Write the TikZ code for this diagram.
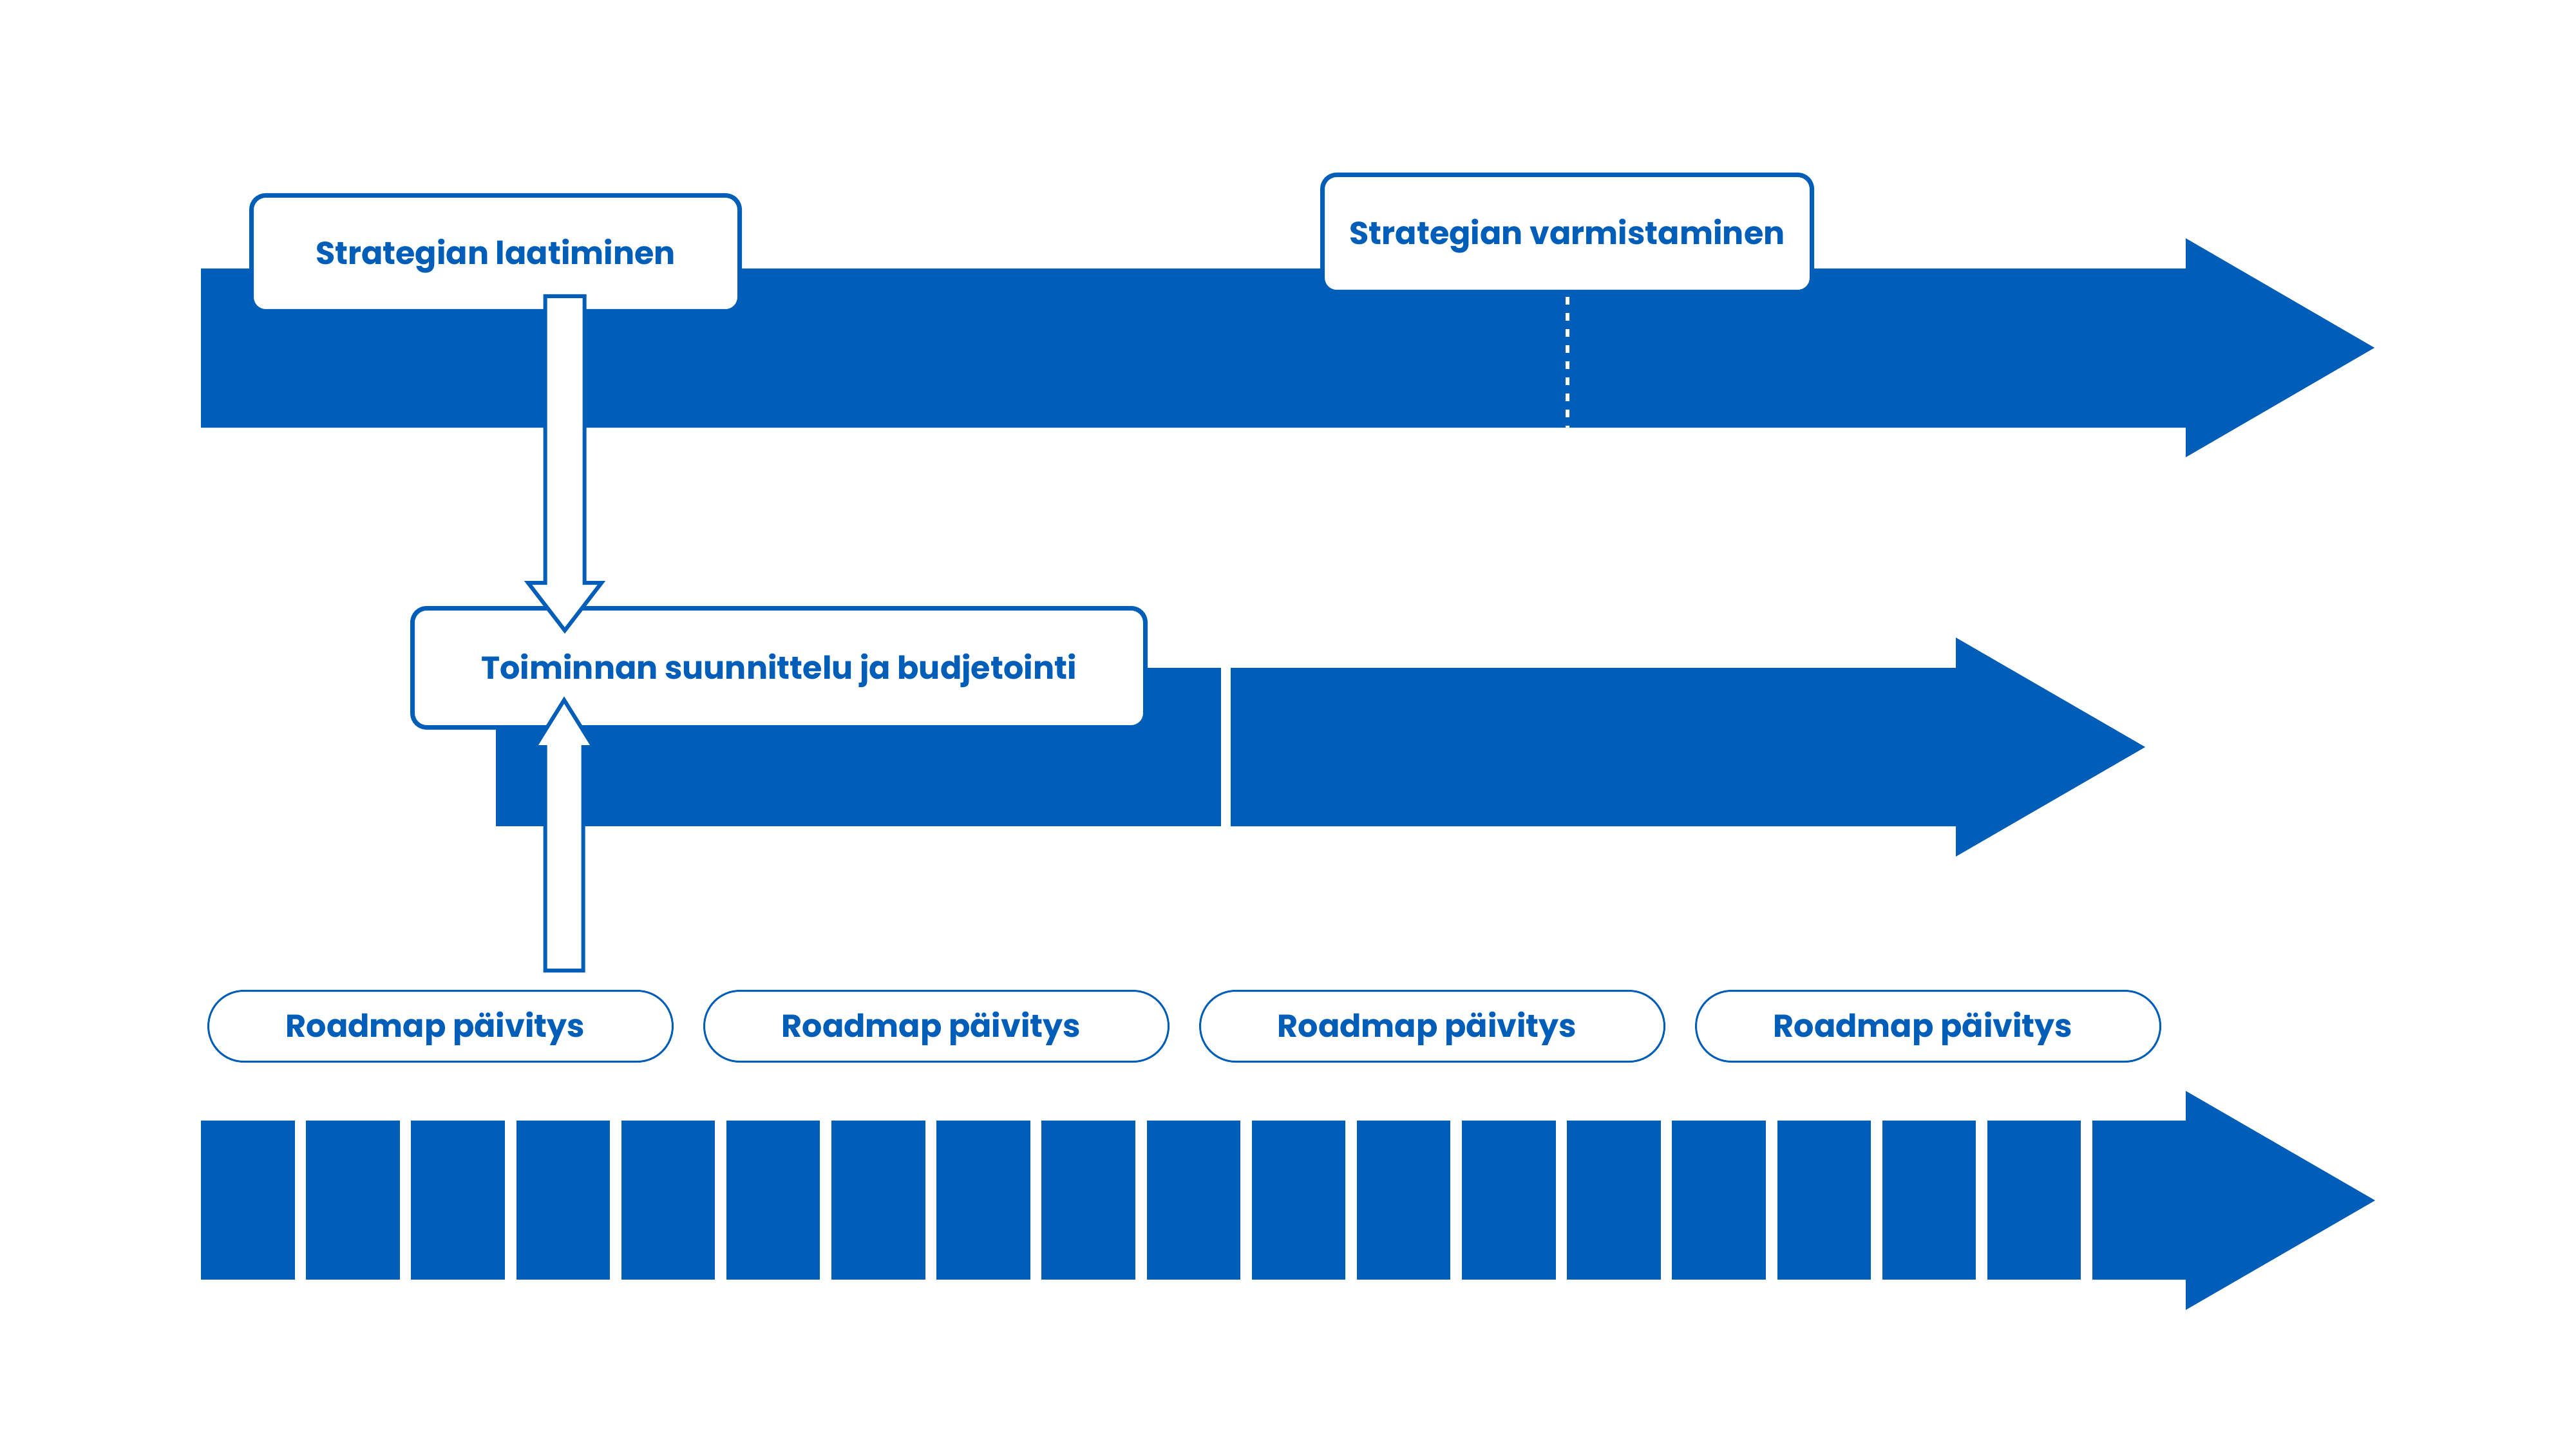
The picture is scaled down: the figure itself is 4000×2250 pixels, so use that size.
\documentclass[tikz,border=0pt]{standalone}
\usepackage{fontspec}
\setmainfont{Poppins}[Ligatures={NoCommon}]
\usetikzlibrary{calc}
\definecolor{brandblue}{RGB}{0,94,184}
\begin{document}
\begin{tikzpicture}[x=0.1mm,y=-0.1mm,
  band/.style={fill=brandblue,draw=none},
  labelfont/.style={text=brandblue,font=\bfseries\fontsize{14.0}{17}\selectfont,text height=3.45mm,text depth=0pt,inner sep=0pt},
  labelbox/.style={labelfont,draw=brandblue,fill=white,line width=0.7mm,rounded corners=2.2mm},
  pillbox/.style={labelfont,draw=brandblue,fill=white,line width=0.3mm,rounded corners=5.5mm,minimum width=72.1mm,minimum height=11mm},
  hollow/.style={draw=brandblue,fill=white,line width=0.6mm,line join=miter},
  dashline/.style={draw=white,line width=0.6mm,dash pattern=on 1.2mm off 1.3mm}]
\useasboundingbox (0,0) rectangle (4000,2250);
\fill[white] (0,0) rectangle (4000,2250);

% top arrow
\fill[brandblue] (312,417) -- (3394,417) -- (3394,370) -- (3687,540) -- (3394,710) -- (3394,664) -- (312,664) -- cycle;
% middle arrow
\fill[brandblue] (770,1037) rectangle (1896,1283);
\fill[brandblue] (1911,1037) -- (3037,1037) -- (3037,990) -- (3331,1160) -- (3037,1330) -- (3037,1283) -- (1911,1283) -- cycle;
% bottom arrow
\foreach \k in {0,...,17}
  \fill[brandblue] ({312+\k*163.17},1740) rectangle ++(145.5,247);
\fill[brandblue] (3249,1740) -- (3394,1740) -- (3394,1694) -- (3688,1864) -- (3394,2034) -- (3394,1987) -- (3249,1987) -- cycle;

% boxes
\node[labelbox,minimum width=75.8mm,minimum height=18mm] (b1) at (769.5,393.5) {Strategian laatiminen};
\node[labelbox,minimum width=76mm,minimum height=18.2mm] (b2) at (2433.5,362.5) {Strategian varmistaminen};
\node[labelbox,minimum width=113.8mm,minimum height=18.5mm] (b3) at (1209.5,1037) {Toiminnan suunnittelu ja budjetointi};

% roadmap pills
\foreach \k in {0,...,3}
  \node[pillbox] (p\k) at ({684+\k*770},1593.5) {\hspace*{-1.6mm}Roadmap päivitys};

% dashed divider under b2
\coordinate (dashend) at (2433,664);
\draw[dashline] ([yshift=-0.4mm]b2.south) -- (b2.south |- dashend);

% hollow arrow b1 -> b3
\path (b1.south) ++(107.5,-27) coordinate (d1);
\path ($(d1 |- b3.north)+(0,42)$) coordinate (d2);
\draw[hollow] ($(d1)+(-30.5,0)$) -- ($(d2)+(-30.5,-78)$) -- ($(d2)+(-57,-78)$) -- ($(d2)+(0,-4)$) -- ($(d2)+(57,-78)$) -- ($(d2)+(30.5,-78)$) -- ($(d1)+(30.5,0)$) -- cycle;

% hollow arrow p0 -> b3
\path (p0.north) ++(192,-27) coordinate (u1);
\path ($(u1 |- b3.south)+(0,-50)$) coordinate (u2);
\draw[hollow] ($(u1)+(-29.5,-3)$) -- ($(u2)+(-29.5,77)$) -- ($(u2)+(-45.5,77)$) -- ($(u2)+(0,4)$) -- ($(u2)+(45.5,77)$) -- ($(u2)+(29.5,77)$) -- ($(u1)+(29.5,-3)$) -- cycle;
\end{tikzpicture}
\end{document}
